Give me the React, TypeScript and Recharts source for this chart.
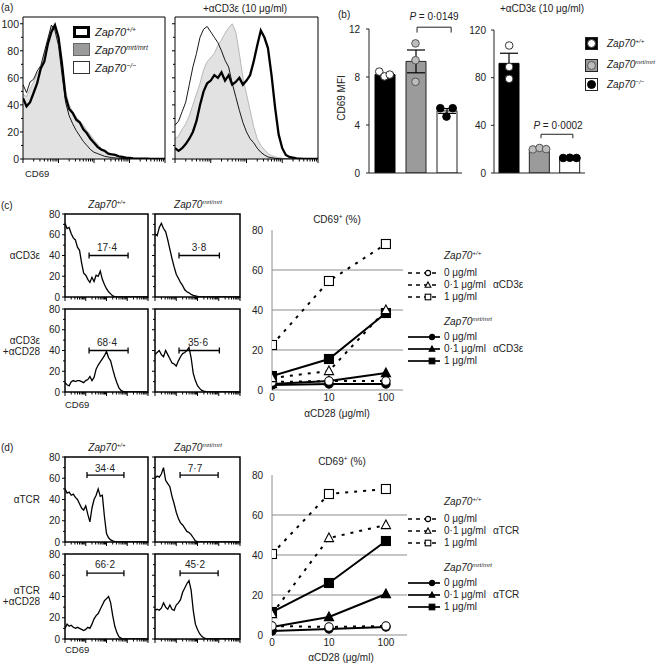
import React from 'react';
import {
  ComposedChart, LineChart, Line, Area, Bar, Cell, Scatter, ErrorBar,
  XAxis, YAxis, ReferenceLine, ReferenceArea,
} from 'recharts';

const FONT = '"Liberation Sans", Arial, Helvetica, sans-serif';

// ---------------- Histogram data (CD69, log decades 0–4) ----------------
const histBins = [0,0.1,0.2,0.3,0.4,0.5,0.6,0.7,0.8,0.9,1,1.1,1.2,1.3,1.4,1.5,1.6,1.7,1.8,1.9,2,2.1,2.2,2.3,2.4,2.5,2.6,2.7,2.8,2.9,3,3.1,3.2,3.3,3.4,3.5,3.6,3.7,3.8,3.9,4];

const aRestWT  = [45,39,42,49,56,67,72,85,94,99,90,70,46,37,34,29,27,22,19,15,12,9,7,6,4,3.5,3,2,1.5,1,0.8,0.5,0.3,0.3,0.2,0.2,0.1,0.1,0,0,0];
const aRestMrt = [48,46,52,57,63,67,77,87,97,100,91,70,50,40,35,31,28,25,21,18,14,11,8,6,4.5,3.5,2.5,2,1.5,1,0.7,0.5,0.3,0.2,0.1,0,0,0,0,0,0];
const aRestKO  = [55,49,57,59,65,69,79,89,99,95,84,62,42,32,26,21,17,13,10,7,5,4,3,2,1.5,1,0.8,0.5,0.3,0.2,0.1,0,0,0,0,0,0,0,0,0,0];
const aStimWT  = [8,6,8,11,15,20,28,40,50,56,58,62,60,64,58,62,55,57,60,55,58,62,72,84,95,90,82,62,38,18,8,3,1.5,1,0.5,0.3,0,0,0,0,0];
const aStimMrt = [15,17,22,26,32,40,48,56,66,72,75,78,84,88,93,97,100,94,78,60,48,36,24,15,10,7,4,2.5,1.5,1,0.5,0.3,0,0,0,0,0,0,0,0,0];
const aStimKO  = [25,28,35,42,55,68,78,90,96,98,94,90,86,80,73,68,56,46,36,27,20,15,12,8,5,3,1.5,1,0.5,0.3,0,0,0,0,0,0,0,0,0,0,0];

const cCD3WT   = [71,66,67,61,57,55,48,45,33,23,21,17,14,19,15,21,20,25,17,12,8,5,3,1,0.3,0,0,0,0,0,0,0,0,0,0,0,0,0,0,0,0];
const cCD3Mrt  = [61,59,67,71,66,63,55,46,37,29,22,18,14,11,7,5,4,2.5,1.5,1,0.5,0,0,0,0,0,0,0,0,0,0,0,0,0,0,0,0,0,0,0,0];
const cCD28WT  = [9,7,6,10,11,10,11,11,10,9,11,12,15,11,14,22,26,29,32,35,39,33,30,22,15,9,4,1.5,0.5,0,0,0,0,0,0,0,0,0,0,0,0];
const cCD28Mrt = [36,38,40,36,34,40,36,32,28,27,25,30,34,37,38,40,43,33,18,11,6,3.5,1.5,0.8,0.3,0,0,0,0,0,0,0,0,0,0,0,0,0,0,0,0];
const dTCRWT   = [50,46,47,44,45,42,40,36,32,30,34,26,19,32,40,44,50,43,44,24,8,4,2,1,0.3,0,0,0,0,0,0,0,0,0,0,0,0,0,0,0,0];
const dTCRMrt  = [60,62,61,64,70,58,55,52,43,36,28,22,18,16,13,10,9,7,4,1,0.3,0,0,0,0,0,0,0,0,0,0,0,0,0,0,0,0,0,0,0,0];
const dCD28WT  = [10,14,12,13,11,10,11,10,9,8,9,11,10,14,19,22,24,28,32,36,38,40,34,22,12,6,2,0.8,0,0,0,0,0,0,0,0,0,0,0,0,0];
const dCD28Mrt = [27,28,27,29,34,30,28,32,28,27,32,34,37,44,48,52,55,46,27,14,9,5,2.5,1,0.3,0,0,0,0,0,0,0,0,0,0,0,0,0,0,0,0];

const gateC = ['17·4', '3·8', '68·4', '35·6'];
const gateD = ['34·4', '7·7', '66·2', '45·2'];

// ---------------- Panel (b) MFI data ----------------
const genotypes = ['Zap70+/+', 'Zap70mrt/mrt', 'Zap70-/-'];
const restMean = [8.2, 9.3, 5.17];
const restSem = [0.1, 0.95, 0.2];
const restReps = [[8.45, 8.05, 8.2], [10.8, 9.4, 7.6], [5.4, 4.7, 5.4]];
const stimMean = [92, 19.8, 12.6];
const stimSem = [8.5, 0.6, 0.2];
const stimReps = [[107, 89, 79], [19.8, 21, 20], [12.6, 12.8, 12.6]];
const repJitter = [[-0.17, 0, 0.17], [0, 0, 0], [-0.2, 0, 0.2]];
const stimJitter = [[0, 0, 0], [-0.22, 0, 0.22], [-0.22, 0, 0.22]];
const restTicks = [0, 4, 8, 12];
const stimTicks = [0, 40, 80, 120];

// ---------------- Dose response data (CD69+ %) ----------------
const doseIdx = [0, 1, 2];
const doseLabels = ['0', '10', '100'];
const pctTicks = [0, 20, 40, 60, 80];
const gridValues = [20, 40, 60];
const cWT = [[4, 4.5, 4.5], [6, 9.5, 40], [22.5, 54.5, 73]];
const cMrt = [[2.5, 3, 3], [3, 4.5, 8.5], [7, 15.5, 38.5]];
const dWT = [[4.5, 4, 4.5], [10.5, 48.5, 55], [40.5, 70.5, 73]];
const dMrt = [[2, 3, 4], [4, 9, 20.5], [11.5, 26, 47]];
const doseNames = ['0 μg/ml', '0·1 μg/ml', '1 μg/ml'];
const shapes = ['circle', 'triangle', 'square'];

// ---------------- helpers ----------------
const logTicks: number[] = [];
for (let d = 0; d < 4; d++) for (let k = 1; k < 10; k++) logTicks.push(d + Math.log10(k));
logTicks.push(4);

const xLogTick = (p: any) => {
  const v = p.payload.value;
  const major = Math.abs(v - Math.round(v)) < 1e-6;
  return <line x1={p.x} x2={p.x} y1={p.y} y2={p.y + (major ? 4 : 2.5)} stroke="#000" strokeWidth={1} />;
};

const makeYTick = (labels: boolean, fs: number, gap: number) => (p: any) => {
  const v = p.payload.value;
  const major = v % 20 === 0;
  return (
    <g>
      <line x1={p.x - (major ? 3 : 2)} x2={p.x} y1={p.y} y2={p.y} stroke="#000" strokeWidth={1} />
      {labels && major && (
        <text x={p.x - gap} y={p.y} dy="0.36em" textAnchor="end" fontSize={fs} fill="#222" fontFamily={FONT}>{v}</text>
      )}
    </g>
  );
};

const T = ({ x, y, children, a = 'start', fs = 10, it = false, st = {} }: any) => (
  <div
    style={{
      position: 'absolute', left: x, top: y,
      transform: `translate(${a === 'middle' ? '-50%' : a === 'end' ? '-100%' : '0'}, -50%)`,
      fontSize: fs, lineHeight: 1, whiteSpace: 'nowrap', fontStyle: it ? 'italic' : 'normal',
      fontWeight: 400, fontFamily: FONT, color: '#222', ...st,
    }}
  >
    {children}
  </div>
);

const Geno = ({ sup }: any) => (
  <span style={{ fontStyle: 'italic' }}>
    Zap70<span style={{ fontSize: '0.62em', position: 'relative', top: '-0.6em' }}>{sup}</span>
  </span>
);

const supOf = (g: string) => g.replace('Zap70', '').replace('-/-', '−/−');

// ---------------- Histogram chart ----------------
function Hist({ x, y, w, h, yMax, yTicks, labels, fs, gap, series, gate, bw }: any) {
  const L = 32, TP = 4, R = 4, B = 8;
  const data = histBins.map((b, i) => {
    const row: any = { b };
    series.forEach((s: any, k: number) => { row['s' + k] = s.v[i]; });
    return row;
  });
  const cap = (3 * yMax) / h;
  return (
    <div style={{ position: 'absolute', left: x - L, top: y - TP }}>
      <ComposedChart width={w + L + R} height={h + TP + B} data={data} margin={{ top: TP, right: R, bottom: 0, left: 0 }}>
        <XAxis dataKey="b" type="number" domain={[0, 4]} ticks={logTicks} interval={0} height={B}
          tickSize={0} tickMargin={0} tickLine={false} axisLine={false} tick={xLogTick} allowDataOverflow />
        <YAxis type="number" domain={[0, yMax]} ticks={yTicks} interval={0} width={L}
          tickSize={0} tickMargin={0} tickLine={false} axisLine={false} tick={makeYTick(labels, fs, gap)} allowDataOverflow />
        {series.map((s: any, k: number) =>
          s.kind === 'fill' ? (
            <Area key={k} dataKey={'s' + k} type="linear" fill="#e2e2e2" fillOpacity={1} stroke="#b8b8b8" strokeWidth={1} dot={false} isAnimationActive={false} />
          ) : (
            <Line key={k} dataKey={'s' + k} type="linear" stroke="#000"
              strokeWidth={s.kind === 'thick' ? 2.3 : s.kind === 'thin' ? 0.9 : 1.3} dot={false} isAnimationActive={false} />
          )
        )}
        <ReferenceArea x1={0} x2={4} y1={0} y2={yMax} fill="none" stroke="#000" strokeWidth={bw} ifOverflow="visible" />
        {gate && (
          <ReferenceLine segment={[{ x: gate.x0, y: gate.y }, { x: gate.x1, y: gate.y }]} stroke="#000" strokeWidth={1.3} ifOverflow="visible" />
        )}
        {gate && (
          <ReferenceLine segment={[{ x: gate.x0, y: gate.y - cap }, { x: gate.x0, y: gate.y + cap }]} stroke="#000" strokeWidth={1.3} ifOverflow="visible" />
        )}
        {gate && (
          <ReferenceLine segment={[{ x: gate.x1, y: gate.y - cap }, { x: gate.x1, y: gate.y + cap }]} stroke="#000" strokeWidth={1.3} ifOverflow="visible" />
        )}
      </ComposedChart>
    </div>
  );
}

// ---------------- Bar chart (MFI) ----------------
const barFill = ['#000', '#9b9b9b', '#fff'];
const dotFill = ['#fff', '#bdbdbd', '#000'];
const dotStroke = ['#333', '#555', '#000'];

function Mfi({ x, y, w, h, means, sems, reps, jit, yMax, ticks, bracket, tickMargin }: any) {
  const L = 40, TP = 30, R = 10, B = 12;
  const data = genotypes.map((g, i) => ({ g, m: means[i], e: sems[i] }));
  return (
    <div style={{ position: 'absolute', left: x - L, top: y - TP }}>
      <ComposedChart width={w + L + R} height={h + TP + B} data={data} margin={{ top: TP, right: R, bottom: 0, left: 0 }}>
        <XAxis dataKey="g" type="category" height={B} tick={false} tickLine={false} axisLine={{ stroke: '#222' }} />
        <XAxis xAxisId="num" dataKey="px" type="number" domain={[-0.5, 2.5]} hide allowDataOverflow />
        <YAxis type="number" domain={[0, yMax]} ticks={ticks} interval={0} width={L} tickSize={3} tickMargin={tickMargin}
          axisLine={{ stroke: '#222' }} tickLine={{ stroke: '#222' }}
          tick={{ fontSize: 10, fill: '#222', fontFamily: FONT }} allowDataOverflow />
        <Bar dataKey="m" barSize={20} isAnimationActive={false}>
          {data.map((d, i) => (
            <Cell key={i} fill={barFill[i]} stroke={i === 0 ? '#000' : '#222'} strokeWidth={1} />
          ))}
          <ErrorBar dataKey="e" width={9} stroke="#000" strokeWidth={1.2} />
        </Bar>
        {reps.map((r: number[], i: number) => (
          <Scatter key={i} xAxisId="num" dataKey="v" isAnimationActive={false}
            data={r.map((v, j) => ({ px: i + jit[i][j], v }))}
            shape={(p: any) => <circle cx={p.cx} cy={p.cy} r={3.8} fill={dotFill[i]} stroke={dotStroke[i]} strokeWidth={1} />} />
        ))}
        <ReferenceLine xAxisId="num" segment={[{ x: bracket.x0, y: bracket.top }, { x: bracket.x1, y: bracket.top }]} stroke="#222" ifOverflow="visible" />
        <ReferenceLine xAxisId="num" segment={[{ x: bracket.x0, y: bracket.top }, { x: bracket.x0, y: bracket.bot }]} stroke="#222" ifOverflow="visible" />
        <ReferenceLine xAxisId="num" segment={[{ x: bracket.x1, y: bracket.top }, { x: bracket.x1, y: bracket.bot }]} stroke="#222" ifOverflow="visible" />
      </ComposedChart>
    </div>
  );
}

// ---------------- Dose response line chart ----------------
const Marker = ({ cx, cy, shape, filled, s = 1 }: any) => {
  const fill = filled ? '#000' : '#fff';
  if (cx == null || cy == null) return null;
  if (shape === 'circle') return <circle cx={cx} cy={cy} r={4.2 * s} fill={fill} stroke="#000" strokeWidth={1.1} />;
  if (shape === 'square') return <rect x={cx - 4.5 * s} y={cy - 4.5 * s} width={9 * s} height={9 * s} fill={fill} stroke="#000" strokeWidth={1.1} />;
  return <polygon points={`${cx},${cy - 5 * s} ${cx + 4.6 * s},${cy + 3.6 * s} ${cx - 4.6 * s},${cy + 3.6 * s}`} fill={fill} stroke="#000" strokeWidth={1.1} />;
};

function Dose({ x, y, w, h, xMax, wt, mrt }: any) {
  const L = 30, TP = 4, R = 6, B = 18;
  const data = doseIdx.map((d, i) => ({
    d, w0: wt[0][i], w1: wt[1][i], w2: wt[2][i], m0: mrt[0][i], m1: mrt[1][i], m2: mrt[2][i],
  }));
  const dotFn = (shape: string, filled: boolean) => (p: any) => (
    <Marker key={p.index} cx={p.cx} cy={p.cy} shape={shape} filled={filled} />
  );
  return (
    <div style={{ position: 'absolute', left: x - L, top: y - TP }}>
      <LineChart width={w + L + R} height={h + TP + B} data={data} margin={{ top: TP, right: R, bottom: 0, left: 0 }}>
        <XAxis dataKey="d" type="number" domain={[0, xMax]} ticks={doseIdx} interval={0} height={B}
          tickFormatter={(v: number) => doseLabels[v]} tickSize={0} tickMargin={4} tickLine={false}
          axisLine={{ stroke: '#8c8c8c' }} tick={{ fontSize: 10, fill: '#222', fontFamily: FONT }} allowDataOverflow />
        <YAxis type="number" domain={[0, 80]} ticks={pctTicks} interval={0} width={L} tickSize={0} tickMargin={9}
          tickLine={false} axisLine={{ stroke: '#8c8c8c' }} tick={{ fontSize: 10, fill: '#222', fontFamily: FONT }} />
        {gridValues.map((v) => (
          <ReferenceLine key={v} y={v} stroke="#8c8c8c" strokeWidth={1} />
        ))}
        {[0, 1, 2].map((k) => (
          <Line key={'m' + k} dataKey={'m' + k} type="linear" stroke="#000" strokeWidth={2}
            dot={dotFn(shapes[k], true)} isAnimationActive={false} />
        ))}
        {[0, 1, 2].map((k) => (
          <Line key={'w' + k} dataKey={'w' + k} type="linear" stroke="#000" strokeWidth={2} strokeDasharray="3 6"
            dot={dotFn(shapes[k], false)} isAnimationActive={false} />
        ))}
      </LineChart>
    </div>
  );
}

const Glyph = ({ x, y, shape, filled }: any) => (
  <svg width={34} height={10} style={{ position: 'absolute', left: x, top: y - 5 }}>
    <line x1={0} x2={32} y1={5} y2={5} stroke="#000" strokeWidth={1.7} strokeDasharray={filled ? undefined : '4 4'} />
    <Marker cx={filled ? 24 : 20} cy={5} shape={shape} filled={filled} s={0.62} />
  </svg>
);

function DoseLegend({ y0, stim }: any) {
  const wtY = [y0 + 17, y0 + 28.5, y0 + 40.5];
  const mY = [y0 + 81, y0 + 92.5, y0 + 104.5];
  return (
    <>
      <T x={444} y={y0} fs={10}><Geno sup="+/+" /></T>
      {doseNames.map((n, i) => (
        <React.Fragment key={'w' + i}>
          <Glyph x={408} y={wtY[i]} shape={shapes[i]} filled={false} />
          <T x={444} y={wtY[i]} fs={10}>{n}</T>
        </React.Fragment>
      ))}
      <T x={493} y={wtY[1]} fs={10}>{stim}</T>
      <T x={444} y={y0 + 66} fs={10}><Geno sup="mrt/mrt" /></T>
      {doseNames.map((n, i) => (
        <React.Fragment key={'m' + i}>
          <Glyph x={408} y={mY[i]} shape={shapes[i]} filled={true} />
          <T x={444} y={mY[i]} fs={10}>{n}</T>
        </React.Fragment>
      ))}
      <T x={493} y={mY[1]} fs={10}>{stim}</T>
    </>
  );
}

const yT80 = [0, 10, 20, 30, 40, 50, 60, 70, 80];
const yT100 = [0, 10, 20, 30, 40, 50, 60, 70, 80, 90, 100];

export default function App() {
  const cell = (x: number, y: number, w: number, h: number, v: number[], labels: boolean, gate: any) => (
    <Hist x={x} y={y} w={w} h={h} yMax={80} yTicks={yT80} labels={labels} fs={10} gap={5}
      series={[{ v, kind: 'hist' }]} gate={gate} bw={1.5} />
  );
  return (
    <div style={{ position: 'absolute', left: 0, top: 0, width: 658, height: 666, background: '#fff', overflow: 'hidden', fontFamily: FONT, color: '#222' }}>
      {/* ---------- (a) ---------- */}
      <T x={1} y={8} fs={10}>(a)</T>
      <Hist x={23} y={17} w={142} h={142} yMax={105} yTicks={yT100} labels fs={10.5} gap={4} bw={1}
        series={[{ v: aRestMrt, kind: 'fill' }, { v: aRestKO, kind: 'thin' }, { v: aRestWT, kind: 'thick' }]} />
      <Hist x={175} y={17} w={143} h={142} yMax={105} yTicks={yT100} labels={false} fs={10.5} gap={4} bw={1}
        series={[{ v: aStimMrt, kind: 'fill' }, { v: aStimKO, kind: 'thin' }, { v: aStimWT, kind: 'thick' }]} />
      <T x={245} y={9} a="middle" fs={10}>+αCD3ε (10 μg/ml)</T>
      <T x={25} y={174} fs={9.5}>CD69</T>
      {/* legend (a) */}
      <div style={{ position: 'absolute', left: 73, top: 26, width: 17, height: 12, border: '3px solid #000', boxSizing: 'border-box', background: '#fff' }} />
      <div style={{ position: 'absolute', left: 73, top: 43, width: 17, height: 13, border: '1px solid #666', boxSizing: 'border-box', background: '#9b9b9b' }} />
      <div style={{ position: 'absolute', left: 73, top: 61, width: 17, height: 13, border: '1px solid #333', boxSizing: 'border-box', background: '#fff' }} />
      <T x={95} y={32} fs={11}><Geno sup="+/+" /></T>
      <T x={95} y={50} fs={11}><Geno sup="mrt/mrt" /></T>
      <T x={95} y={68} fs={11}><Geno sup="−/−" /></T>

      {/* ---------- (b) ---------- */}
      <T x={338} y={15} fs={10}>(b)</T>
      <T x={342} y={98} a="middle" fs={10} st={{ transform: 'translate(-50%, -50%) rotate(-90deg)' }}>CD69 MFI</T>
      <Mfi x={369} y={29} w={93} h={144} means={restMean} sems={restSem} reps={restReps} jit={repJitter}
        yMax={12} ticks={restTicks} tickMargin={6} bracket={{ x0: 1.05, x1: 2.15, top: 12.15, bot: 11.7 }} />
      <T x={434} y={17} a="middle" fs={10}><i>P</i> = 0·0149</T>
      <Mfi x={494} y={30} w={91} h={143} means={stimMean} sems={stimSem} reps={stimReps} jit={stimJitter}
        yMax={120} ticks={stimTicks} tickMargin={5} bracket={{ x0: 1.05, x1: 2.1, top: 32.5, bot: 29.2 }} />
      <T x={558} y={126} a="middle" fs={10}><i>P</i> = 0·0002</T>
      <T x={542} y={9} a="middle" fs={10}>+αCD3ε (10 μg/ml)</T>
      {/* legend (b) */}
      {genotypes.map((g, i) => {
        const cy = [43.5, 65, 84.5][i];
        return (
          <React.Fragment key={g}>
            <div style={{ position: 'absolute', left: 585, top: cy - 6.5, width: 13, height: 13, boxSizing: 'border-box', background: barFill[i], border: '1px solid #222' }} />
            <div style={{ position: 'absolute', left: 587, top: cy - 4.5, width: 9, height: 9, boxSizing: 'border-box', borderRadius: '50%', background: dotFill[i], border: `1px solid ${dotStroke[i]}` }} />
            <T x={607} y={cy} fs={10}><Geno sup={supOf(g)} /></T>
          </React.Fragment>
        );
      })}

      {/* ---------- (c) ---------- */}
      <T x={1} y={206} fs={10}>(c)</T>
      <T x={107} y={205} a="middle" fs={10}><Geno sup="+/+" /></T>
      <T x={198} y={205} a="middle" fs={10}><Geno sup="mrt/mrt" /></T>
      {cell(65, 214, 83, 83, cCD3WT, true, { x0: 1.16, x1: 3.04, y: 40 })}
      {cell(155, 214, 85, 83, cCD3Mrt, false, { x0: 1.13, x1: 3.03, y: 40 })}
      {cell(65, 309, 83, 83, cCD28WT, true, { x0: 1.16, x1: 3.04, y: 40 })}
      {cell(155, 309, 85, 83, cCD28Mrt, false, { x0: 1.13, x1: 3.03, y: 40 })}
      <T x={107} y={248} a="middle" fs={10}>{gateC[0]}</T>
      <T x={199} y={248} a="middle" fs={10}>{gateC[1]}</T>
      <T x={107} y={343} a="middle" fs={10}>{gateC[2]}</T>
      <T x={198} y={343} a="middle" fs={10}>{gateC[3]}</T>
      <T x={40} y={256} a="end" fs={10}>αCD3ε</T>
      <T x={40} y={341} a="end" fs={10}>αCD3ε</T>
      <T x={40} y={352} a="end" fs={10}>+αCD28</T>
      <T x={65} y={405} fs={9.5}>CD69</T>
      <T x={337} y={220} a="middle" fs={10}>CD69<span style={{ fontSize: '0.65em', position: 'relative', top: '-0.55em' }}>+</span> (%)</T>
      <Dose x={272} y={230} w={131} h={160} xMax={2.3} wt={cWT} mrt={cMrt} />
      <T x={337} y={414} a="middle" fs={10}>αCD28 (μg/ml)</T>
      <DoseLegend y0={256} stim="αCD3ε" />

      {/* ---------- (d) ---------- */}
      <T x={1} y={448} fs={10}>(d)</T>
      <T x={107} y={448} a="middle" fs={10}><Geno sup="+/+" /></T>
      <T x={198} y={448} a="middle" fs={10}><Geno sup="mrt/mrt" /></T>
      {cell(65, 457, 83, 85, dTCRWT, true, { x0: 1.06, x1: 2.84, y: 63 })}
      {cell(155, 457, 85, 85, dTCRMrt, false, { x0: 1.18, x1: 2.97, y: 63 })}
      {cell(65, 554, 83, 85, dCD28WT, true, { x0: 1.06, x1: 2.84, y: 62 })}
      {cell(155, 554, 85, 85, dCD28Mrt, false, { x0: 1.18, x1: 2.97, y: 62 })}
      <T x={105} y={469} a="middle" fs={10}>{gateD[0]}</T>
      <T x={195} y={469} a="middle" fs={10}>{gateD[1]}</T>
      <T x={105} y={565} a="middle" fs={10}>{gateD[2]}</T>
      <T x={195} y={565} a="middle" fs={10}>{gateD[3]}</T>
      <T x={40} y={500} a="end" fs={10}>αTCR</T>
      <T x={40} y={591} a="end" fs={10}>αTCR</T>
      <T x={40} y={602} a="end" fs={10}>+αCD28</T>
      <T x={65} y={650} fs={9.5}>CD69</T>
      <T x={342} y={462} a="middle" fs={10}>CD69<span style={{ fontSize: '0.65em', position: 'relative', top: '-0.55em' }}>+</span> (%)</T>
      <Dose x={272} y={475} w={135} h={160} xMax={2.37} wt={dWT} mrt={dMrt} />
      <T x={341} y={658} a="middle" fs={10}>αCD28 (μg/ml)</T>
      <DoseLegend y0={502} stim="αTCR" />
    </div>
  );
}
